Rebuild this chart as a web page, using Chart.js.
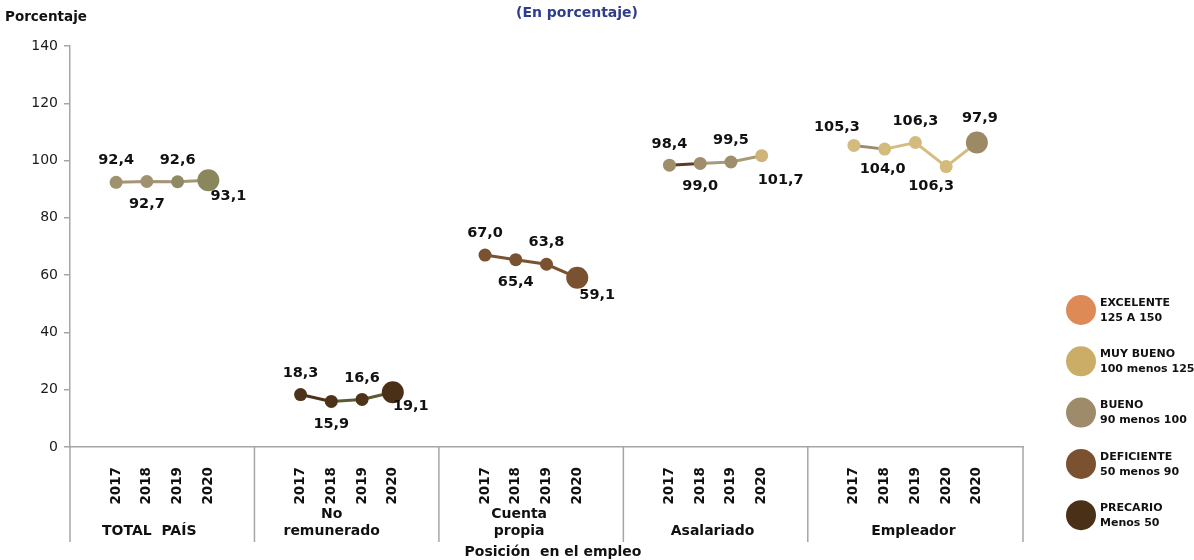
<!DOCTYPE html>
<html>
<head>
<meta charset="utf-8">
<script src="https://cdn.jsdelivr.net/npm/chart.js@4/dist/chart.umd.min.js"></script>
<style>
  html, body { margin: 0; padding: 0; background: #fff; }
  #wrap { width: 1194px; height: 560px; position: relative; }
</style>
</head>
<body>
<div id="wrap"><canvas id="ch"></canvas></div>
<script>
// data
const groupNames = [['TOTAL  PAÍS'], ['No', 'remunerado'], ['Cuenta', 'propia'], ['Asalariado'], ['Empleador']]
const groupYears = [
    ['2017', '2018', '2019', '2020'],
    ['2017', '2018', '2019', '2020'],
    ['2017', '2018', '2019', '2020'],
    ['2017', '2018', '2019', '2020'],
    ['2017', '2018', '2019', '2020', '2020']
]
const totalPais = [92.4, 92.7, 92.6, 93.1]
const noRemunerado = [18.3, 15.9, 16.6, 19.1]
const cuentaPropia = [67.0, 65.4, 63.8, 59.1]
const asalariado = [98.4, 99.0, 99.5, 101.7]
const empleador = [105.3, 104.0, 106.3, 97.9, 106.3]
// texts printed next to the Empleador points (as in the source)
const empleadorLabels = ['105,3', '104,0', '106,3', '106,3', '97,9']
const yTicks = [0, 20, 40, 60, 80, 100, 120, 140]

const legendItems = [
    ['EXCELENTE', '125 A 150'],
    ['MUY BUENO', '100 menos 125'],
    ['BUENO', '90 menos 100'],
    ['DEFICIENTE', '50 menos 90'],
    ['PRECARIO', 'Menos 50']
]
const legendColors = ['#de8a56', '#cbad67', '#9d8b69', '#7a5230', '#4a3017']

const seriesValues = [totalPais, noRemunerado, cuentaPropia, asalariado, empleador]

// styles per group
const styles = [
    { pts: ['#a0916f', '#a0916f', '#8f8a62', '#8b875d'], r: [6.5, 6.5, 6.5, 11], seg: ['#a59575', '#a59575', '#a59575'],
      off: [[0, -22], [0, 23], [0, -22], [20, 16]] },
    { pts: ['#4d3319', '#4d3319', '#4d3319', '#4a3017'], r: [6.5, 6.5, 6.5, 11], seg: ['#4d3319', '#5c5a33', '#5c5a33'],
      off: [[0, -21], [0, 23], [0, -21], [18, 14]] },
    { pts: ['#7a5230', '#7a5230', '#7a5230', '#7a5230'], r: [6.5, 6.5, 6.5, 11], seg: ['#7a5230', '#7a5230', '#7a5230'],
      off: [[0, -22], [0, 23], [0, -22], [20, 18]] },
    { pts: ['#9e8e6c', '#9e8e6c', '#9e8e6c', '#cfb477'], r: [6.5, 6.5, 6.5, 6.5], seg: ['#5c3b2c', '#a89a78', '#a89a78'],
      off: [[0, -21], [0, 23], [0, -22], [19, 25]] },
    { pts: ['#d2bb7d', '#d2bb7d', '#d2bb7d', '#d2bb7d', '#9c8a66'], r: [6.5, 6.5, 6.5, 6.5, 11], seg: ['#9a8c70', '#d4bd80', '#d4bd80', '#d4bd80'],
      off: [[-17, -18], [-2, 20], [0, -21], [-15, 20], [3, -24]] }
]

// build the category slots: one empty slot on each side of every group
let slotLabels = []
let groupSlots = []
for (let g = 0; g < groupYears.length; g++) {
    slotLabels.push('')
    let idx = []
    for (let k = 0; k < groupYears[g].length; k++) {
        idx.push(slotLabels.length)
        slotLabels.push(groupYears[g][k])
    }
    slotLabels.push('')
    groupSlots.push(idx)
}

function fmt(v) {
    return v.toFixed(1).replace('.', ',')
}

let datasets = []
for (let g = 0; g < seriesValues.length; g++) {
    let data = slotLabels.map(() => null)
    groupSlots[g].forEach((s, k) => { data[s] = seriesValues[g][k] })
    const first = groupSlots[g][0]
    const st = styles[g]
    datasets.push({
        data: data,
        spanGaps: false,
        borderWidth: 3,
        borderColor: st.seg[0],
        segment: {
            borderColor: ctx => st.seg[ctx.p0DataIndex - first] || st.seg[0]
        },
        pointBackgroundColor: ctx => st.pts[ctx.dataIndex - first] || st.pts[0],
        pointBorderColor: ctx => st.pts[ctx.dataIndex - first] || st.pts[0],
        pointBorderWidth: 0,
        pointRadius: ctx => st.r[ctx.dataIndex - first] || 0,
        labelTexts: g === 4 ? empleadorLabels : seriesValues[g].map(fmt),
        labelOffsets: st.off,
        firstSlot: first
    })
}

const FONT = '"DejaVu Sans", Verdana, sans-serif'

const decor = {
    id: 'decor',
    afterDraw(chart) {
        const c = chart.ctx
        const x = chart.scales.x
        const a = chart.chartArea
        const bottomLine = 542
        c.save()

        // group separators below the axis
        c.strokeStyle = '#a6a6a6'
        c.lineWidth = 1.5
        let seps = [a.left]
        for (let g = 1; g < groupSlots.length; g++) {
            const s = groupSlots[g][0] - 1
            seps.push((x.getPixelForValue(s) + x.getPixelForValue(s - 1)) / 2)
        }
        seps.push(a.right)
        seps.forEach(px => {
            c.beginPath()
            c.moveTo(px, a.bottom)
            c.lineTo(px, bottomLine)
            c.stroke()
        })

        // group names
        const nudge = [-13, -15, -12, -3, -2]
        c.fillStyle = '#111'
        c.font = 'bold 14px ' + FONT
        c.textAlign = 'center'
        c.textBaseline = 'middle'
        groupNames.forEach((lines, g) => {
            const sl = groupSlots[g]
            const cx = (x.getPixelForValue(sl[0]) + x.getPixelForValue(sl[sl.length - 1])) / 2 + nudge[g]
            lines.forEach((t, i) => {
                c.fillText(t, cx, 531 - (lines.length - 1 - i) * 17)
            })
        })

        // axis title
        c.fillText('Posición  en el empleo', 553, 552)

        // top texts
        c.textAlign = 'left'
        c.font = 'bold 13.5px ' + FONT
        c.fillText('Porcentaje', 5, 17)
        c.textAlign = 'center'
        c.fillStyle = '#2e3d8c'
        c.font = 'bold 14px ' + FONT
        c.fillText('(En porcentaje)', 577, 13)

        // data labels
        c.fillStyle = '#111'
        c.font = 'bold 14.5px ' + FONT
        chart.data.datasets.forEach((ds, di) => {
            const meta = chart.getDatasetMeta(di)
            ds.labelTexts.forEach((t, k) => {
                const el = meta.data[ds.firstSlot + k]
                const o = ds.labelOffsets[k]
                c.fillText(t, el.x + o[0], el.y + o[1])
            })
        })

        // legend
        legendItems.forEach((it, i) => {
            const cy = 310 + i * 51.3
            c.fillStyle = legendColors[i]
            c.beginPath()
            c.arc(1081, cy, 15, 0, Math.PI * 2)
            c.fill()
            c.fillStyle = '#111'
            c.font = 'bold 11px ' + FONT
            c.textAlign = 'left'
            c.fillText(it[0], 1100, cy - 7)
            c.fillText(it[1], 1100, cy + 8)
        })
        c.restore()
    }
}

new Chart(document.getElementById('ch'), {
    type: 'line',
    data: { labels: slotLabels, datasets: datasets },
    options: {
        responsive: true,
        maintainAspectRatio: false,
        animation: false,
        events: [],
        layout: { padding: { left: 0, top: 46, right: 171, bottom: 0 } },
        plugins: { legend: { display: false }, tooltip: { enabled: false } },
        scales: {
            x: {
                type: 'category',
                offset: true,
                grid: { display: false },
                border: { display: true, color: '#a6a6a6', width: 1.5 },
                ticks: {
                    autoSkip: false,
                    maxRotation: 90,
                    minRotation: 90,
                    padding: 12,
                    color: '#111',
                    font: { family: FONT, size: 13.5, weight: 'bold' }
                },
                afterFit: s => { s.height = 113 }
            },
            y: {
                min: 0,
                max: 140,
                afterBuildTicks: s => { s.ticks = yTicks.map(v => ({ value: v })) },
                grid: { drawOnChartArea: false, tickLength: 6, color: '#a6a6a6', lineWidth: 1.5 },
                border: { display: true, color: '#a6a6a6', width: 1.5 },
                ticks: {
                    padding: 6,
                    color: '#1a1a1a',
                    font: { family: FONT, size: 14 }
                },
                afterFit: s => { s.width = 70 }
            }
        }
    },
    plugins: [decor]
})
</script>
</body>
</html>
